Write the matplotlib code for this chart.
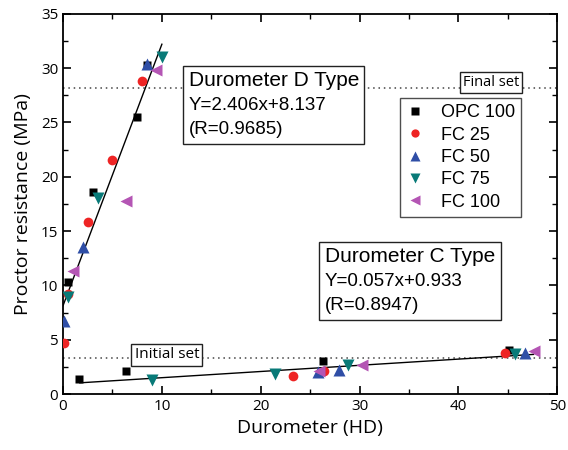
import matplotlib
matplotlib.use("Agg")
import matplotlib.pyplot as plt
import numpy as np
from matplotlib.ticker import MultipleLocator
from matplotlib.offsetbox import TextArea, VPacker, AnnotationBbox

plt.rcParams["font.family"] = ["Open Sans", "DejaVu Sans"]

# durometer (HD) / proctor resistance (MPa)
opc100_x = [0.5, 3.0, 7.5, 8.5, 1.6, 6.4, 26.3, 45.1]
opc100_y = [10.35, 18.6, 25.5, 30.3, 1.4, 2.1, 3.06, 4.07]
fc25_x = [0.07, 0.5, 2.5, 5.0, 8.0, 23.3, 26.4, 44.7]
fc25_y = [4.7, 9.25, 15.8, 21.5, 28.8, 1.68, 2.14, 3.73]
fc50_x = [0.13, 2.0, 8.5, 25.8, 27.9, 46.7]
fc50_y = [6.75, 13.5, 30.4, 2.05, 2.25, 3.76]
fc75_x = [0.5, 3.5, 10.0, 9.0, 21.4, 28.8, 45.7]
fc75_y = [8.95, 18.05, 31.0, 1.3, 1.84, 2.64, 3.67]
fc100_x = [1.0, 6.4, 9.4, 25.9, 30.2, 47.7]
fc100_y = [11.3, 17.8, 29.8, 2.14, 2.7, 3.98]

# linear fits printed on the chart
fit_d = (2.406, 8.137, 0.0, 10.0)   # slope, intercept, x from, x to
fit_c = (0.057, 0.933, 1.7, 47.6)
final_set = 28.2
initial_set = 3.3

series = [
    ("OPC 100", opc100_x, opc100_y, "s", "#000000", 6.0),
    ("FC 25", fc25_x, fc25_y, "o", "#ee2424", 7.0),
    ("FC 50", fc50_x, fc50_y, "^", "#2f4ea6", 8.2),
    ("FC 75", fc75_x, fc75_y, "v", "#087a78", 8.2),
    ("FC 100", fc100_x, fc100_y, "<", "#b455b4", 8.2),
]

fig = plt.figure(figsize=(5.68, 4.5), dpi=100)
ax = fig.add_axes([0.111, 0.1244, 0.870, 0.845])

ax.axhline(final_set, color="#444", ls=(0, (1, 2.5)), lw=1.1, zorder=1)
ax.axhline(initial_set, color="#444", ls=(0, (1, 2.5)), lw=1.1, zorder=1)

for k, b, x0, x1 in (fit_d, fit_c):
    xs = np.array([x0, x1])
    ax.plot(xs, k * xs + b, color="black", lw=1.0, zorder=2)

for lab, xs, ys, m, c, s in series:
    ax.plot(xs, ys, ls="none", marker=m, color=c, ms=s, mec="none",
            label=lab, zorder=3)

ax.set_xlim(0, 50)
ax.set_ylim(0, 35)
ax.xaxis.set_major_locator(MultipleLocator(10))
ax.xaxis.set_minor_locator(MultipleLocator(5))
ax.yaxis.set_major_locator(MultipleLocator(5))
ax.yaxis.set_minor_locator(MultipleLocator(2.5))
ax.tick_params(which="major", direction="in", length=6, width=1.2, labelsize=11,
               top=True, right=True)
ax.tick_params(which="minor", direction="in", length=3.5, width=1.0,
               top=True, right=True)
for sp in ax.spines.values():
    sp.set_linewidth(1.3)

ax.set_xlabel("Durometer (HD)", fontsize=14, labelpad=4)
ax.set_ylabel("Proctor resistance (MPa)", fontsize=14, labelpad=6)


def fit_box(xy, title, eq, r):
    lines = [TextArea(title, textprops=dict(fontsize=15, family="Liberation Sans")),
             TextArea(eq, textprops=dict(fontsize=13.5, family="Liberation Sans")),
             TextArea(r, textprops=dict(fontsize=13.5, family="Liberation Sans"))]
    pack = VPacker(children=lines, align="left", pad=0, sep=5)
    ab = AnnotationBbox(pack, xy, xycoords="data", box_alignment=(0, 1),
                        frameon=True, pad=0.35, zorder=5,
                        bboxprops=dict(boxstyle="square,pad=0.4", fc="white",
                                       ec="#222", lw=1.0))
    ax.add_artist(ab)


fit_box((12.7, 29.7), "Durometer D Type", "Y=2.406x+8.137", "(R=0.9685)")
fit_box((26.5, 13.5), "Durometer C Type", "Y=0.057x+0.933", "(R=0.8947)")

small = dict(boxstyle="square,pad=0.22", fc="white", ec="#222", lw=1.0)
ax.text(43.3, 28.66, "Final set", fontsize=10.5, ha="center", va="center",
        bbox=small, zorder=5)
ax.text(10.5, 3.6, "Initial set", fontsize=11, ha="center", va="center",
        bbox=small, zorder=5)

leg = ax.legend(loc="upper left", bbox_to_anchor=(0.682, 0.779),
                borderaxespad=0, prop=dict(family="Liberation Sans", size=13),
                frameon=True, fancybox=False, edgecolor="#222", handlelength=1.0,
                handletextpad=0.9, labelspacing=0.3, borderpad=0.35,
                markerscale=0.85)
leg.get_frame().set_linewidth(1.0)

fig.savefig("out.png", dpi=100)
